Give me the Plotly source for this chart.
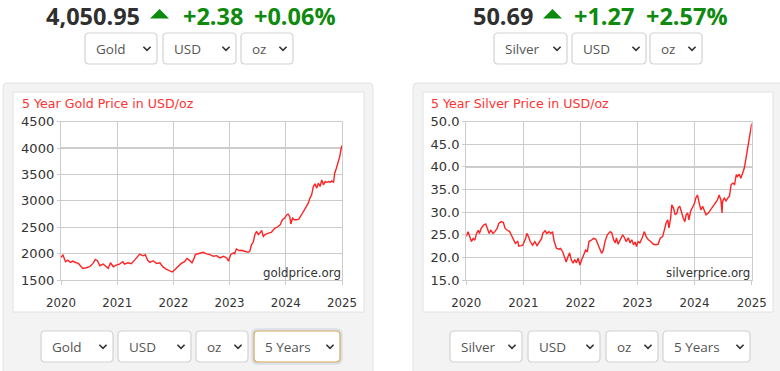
import plotly.graph_objects as go

W, H = 780, 371

# ---------------- data ----------------
gold_t = [2020.0, 2020.035, 2020.08, 2020.12, 2020.17, 2020.21, 2020.27, 2020.31, 2020.36, 2020.39,
          2020.45, 2020.51, 2020.57, 2020.61, 2020.65, 2020.69, 2020.75, 2020.79, 2020.84, 2020.88,
          2020.93, 2020.98, 2021.04, 2021.10, 2021.13, 2021.19, 2021.25, 2021.31, 2021.37, 2021.40,
          2021.46, 2021.50, 2021.54, 2021.58, 2021.64, 2021.70, 2021.76, 2021.81, 2021.87, 2021.93,
          2021.98, 2022.02, 2022.08, 2022.14, 2022.20, 2022.24, 2022.28, 2022.33, 2022.36, 2022.39,
          2022.45, 2022.53, 2022.59, 2022.65, 2022.71, 2022.77, 2022.83, 2022.89, 2022.95, 2022.98,
          2023.02, 2023.07, 2023.09, 2023.12, 2023.17, 2023.21, 2023.27, 2023.33, 2023.36, 2023.39,
          2023.42, 2023.45, 2023.48, 2023.51, 2023.54, 2023.57, 2023.60, 2023.63, 2023.69, 2023.74,
          2023.78, 2023.81, 2023.85, 2023.90, 2023.94, 2023.98, 2024.02, 2024.04, 2024.07, 2024.09,
          2024.12, 2024.15, 2024.19, 2024.23, 2024.28, 2024.33, 2024.37, 2024.40, 2024.43, 2024.46,
          2024.49, 2024.52, 2024.55, 2024.58, 2024.61, 2024.64, 2024.67, 2024.70, 2024.73, 2024.76,
          2024.79, 2024.82, 2024.85, 2024.87, 2024.90, 2024.93, 2024.96, 2024.98, 2025.0]
gold_v = [1928, 1972, 1846, 1877, 1833, 1858, 1827, 1814, 1752, 1720,
          1733, 1752, 1814, 1890, 1865, 1770, 1802, 1764, 1720, 1827,
          1752, 1783, 1802, 1846, 1802, 1827, 1808, 1877, 1953, 1990,
          1959, 1978, 1877, 1833, 1865, 1814, 1827, 1752, 1708, 1676,
          1651, 1689, 1752, 1814, 1846, 1909, 1877, 1827, 1890, 1984,
          2003, 2025, 1994, 1981, 1950, 1962, 1918, 1950, 1918, 1855,
          1981, 2013, 2000, 2088, 2057, 2063, 2044, 2025, 2044, 2170,
          2214, 2359, 2422, 2359, 2390, 2441, 2328, 2359, 2390, 2403,
          2453, 2485, 2504, 2548, 2642, 2674, 2737, 2749, 2705, 2561,
          2674, 2642, 2642, 2655, 2737, 2831, 2926, 2957, 3052, 3115,
          3272, 3322, 3241, 3335, 3272, 3398, 3304, 3367, 3348, 3367,
          3354, 3379, 3348, 3524, 3618, 3713, 3839, 3965, 4051]

silver_t = [2020.0, 2020.03, 2020.06, 2020.09, 2020.12, 2020.15, 2020.18, 2020.21, 2020.23, 2020.26,
            2020.30, 2020.34, 2020.37, 2020.40, 2020.43, 2020.47, 2020.50, 2020.54, 2020.57, 2020.61,
            2020.65, 2020.68, 2020.72, 2020.76, 2020.79, 2020.83, 2020.86, 2020.90, 2020.92, 2020.96,
            2020.99, 2021.04, 2021.06, 2021.09, 2021.12, 2021.16, 2021.20, 2021.24, 2021.28, 2021.32,
            2021.34, 2021.38, 2021.41, 2021.45, 2021.48, 2021.51, 2021.54, 2021.58, 2021.62, 2021.65,
            2021.69, 2021.72, 2021.75, 2021.78, 2021.81, 2021.84, 2021.87, 2021.90, 2021.93, 2021.96,
            2021.99, 2022.02, 2022.06, 2022.09, 2022.12, 2022.15, 2022.19, 2022.23, 2022.27, 2022.31,
            2022.34, 2022.37, 2022.40, 2022.43, 2022.47, 2022.52, 2022.55, 2022.58, 2022.61, 2022.63,
            2022.66, 2022.70, 2022.74, 2022.77, 2022.80, 2022.84, 2022.87, 2022.90, 2022.93, 2022.96,
            2022.98, 2023.01, 2023.04, 2023.08, 2023.12, 2023.15, 2023.19, 2023.23, 2023.28, 2023.32,
            2023.36, 2023.40, 2023.44, 2023.47, 2023.50, 2023.53, 2023.55, 2023.58, 2023.60, 2023.63,
            2023.66, 2023.69, 2023.71, 2023.74, 2023.77, 2023.80, 2023.83, 2023.85, 2023.88, 2023.90,
            2023.93, 2023.96, 2024.0, 2024.02, 2024.05, 2024.08, 2024.11, 2024.14, 2024.16, 2024.20,
            2024.24, 2024.28, 2024.33, 2024.37, 2024.40, 2024.43, 2024.46, 2024.48, 2024.49, 2024.52,
            2024.55, 2024.58, 2024.61, 2024.64, 2024.67, 2024.70, 2024.73, 2024.75, 2024.78, 2024.81,
            2024.84, 2024.87, 2024.90, 2024.93, 2024.96, 2024.99, 2025.0]
silver_v = [24.6, 25.7, 24.6, 23.5, 24.2, 23.8, 25.3, 26.0, 25.3, 26.4,
            27.1, 27.4, 26.4, 25.3, 26.0, 25.3, 25.7, 26.4, 27.5, 27.9,
            27.7, 26.4, 26.0, 25.7, 24.9, 23.8, 23.1, 23.5, 22.5, 22.6,
            22.7, 24.2, 25.3, 24.6, 23.5, 22.7, 23.5, 22.6, 23.5, 24.2,
            25.3, 25.9, 25.3, 25.7, 25.3, 25.7, 23.5, 22.0, 21.8, 22.0,
            21.2, 19.8, 19.0, 20.1, 21.0, 19.4, 18.7, 19.5, 18.8, 19.8,
            18.3, 19.4, 20.5, 21.6, 21.2, 23.5, 23.8, 24.2, 24.0, 22.7,
            21.6, 20.9, 21.6, 23.5, 25.0, 25.7, 25.4, 23.9, 23.2, 24.3,
            22.9, 23.9, 25.0, 24.4, 23.5, 24.3, 23.2, 23.9, 22.8, 23.4,
            22.4, 23.5, 23.2, 24.3, 25.7, 24.6, 23.9, 23.5, 22.9, 22.8,
            22.9, 24.3, 24.6, 26.1, 27.6, 28.3, 26.5, 28.7, 31.6, 30.9,
            29.4, 29.8, 30.9, 31.3, 29.8, 28.7, 27.9, 29.4, 29.8, 28.3,
            30.2, 31.0, 32.0, 33.1, 33.8, 32.0, 30.5, 31.3, 30.7, 29.4,
            29.8, 30.5, 31.3, 32.0, 32.7, 33.8, 32.7, 29.8, 32.4, 33.1,
            32.5, 33.1, 33.5, 36.1, 36.4, 36.1, 38.3, 37.9, 38.4, 37.5,
            38.6, 39.7, 41.9, 44.2, 47.1, 49.3, 49.6]

gold_header = ["4,050.95", "+2.38", "+0.06%"]
silver_header = ["50.69", "+1.27", "+2.57%"]
gold_title = "5 Year Gold Price in USD/oz"
silver_title = "5 Year Silver Price in USD/oz"
gold_mark = "goldprice.org"
silver_mark = "silverprice.org"
gold_selects_top = ["Gold", "USD", "oz"]
silver_selects_top = ["Silver", "USD", "oz"]
gold_selects_bottom = ["Gold", "USD", "oz", "5 Years"]
silver_selects_bottom = ["Silver", "USD", "oz", "5 Years"]


# ---------------- helpers ----------------
def X(px):
    return px / W


def Y(py):
    return 1 - py / H


def rrect(x0, y0, x1, y1, r):
    p = [
        f"M{X(x0 + r)},{Y(y0)}", f"L{X(x1 - r)},{Y(y0)}", f"Q{X(x1)},{Y(y0)} {X(x1)},{Y(y0 + r)}",
        f"L{X(x1)},{Y(y1 - r)}", f"Q{X(x1)},{Y(y1)} {X(x1 - r)},{Y(y1)}",
        f"L{X(x0 + r)},{Y(y1)}", f"Q{X(x0)},{Y(y1)} {X(x0)},{Y(y1 - r)}",
        f"L{X(x0)},{Y(y0 + r)}", f"Q{X(x0)},{Y(y0)} {X(x0 + r)},{Y(y0)}", "Z",
    ]
    return " ".join(p)


shapes = []
annotations = []

# grey panels and white chart boxes
for (x0, x1) in [(3, 373), (413, 790)]:
    shapes.append(dict(type="path", path=rrect(x0, 83, x1, 380, 4), xref="paper", yref="paper",
                       fillcolor="#f3f3f3", line=dict(color="#e4e4e4", width=1), layer="below"))
for (x0, x1) in [(13, 364), (423, 773)]:
    shapes.append(dict(type="rect", x0=X(x0), x1=X(x1), y0=Y(312), y1=Y(92), xref="paper", yref="paper",
                       fillcolor="white", line=dict(color="#e2e2e2", width=1), layer="below"))


def select_box(label, x0, x1, y0, y1, border="#d3d3d3", glow=False):
    if glow:
        shapes.append(dict(type="path", path=rrect(x0 - 1.5, y0 - 1.5, x1 + 1.5, y1 + 1.5, 5), xref="paper",
                           yref="paper", fillcolor="rgba(0,0,0,0)",
                           line=dict(color="rgba(190,200,220,0.45)", width=2.5), layer="below"))
    shapes.append(dict(type="path", path=rrect(x0, y0, x1, y1, 4), xref="paper", yref="paper",
                       fillcolor="white", line=dict(color=border, width=1.2), layer="below"))
    cx, cy = x1 - 10, (y0 + y1) / 2
    shapes.append(dict(type="path",
                       path=f"M{X(cx - 3.6)},{Y(cy - 1.8)} L{X(cx)},{Y(cy + 1.9)} L{X(cx + 3.6)},{Y(cy - 1.8)}",
                       xref="paper", yref="paper", line=dict(color="#333333", width=1.6), layer="above"))
    annotations.append(dict(text=label, x=X(x0 + 9), y=Y((y0 + y1) / 2 + 0.5), xref="paper", yref="paper",
                            xanchor="left", yanchor="middle", showarrow=False,
                            font=dict(family="Open Sans", size=13.5, color="#555555")))


top_gold_pos = [(85, 157), (163, 236), (241, 293)]
top_silver_pos = [(494, 567), (572, 646), (650, 702)]
bot_gold_pos = [(41, 113), (118, 191), (196, 248), (254, 340)]
bot_silver_pos = [(450, 522), (528, 600), (606, 658), (663, 750)]

for lab, (a, b) in zip(gold_selects_top, top_gold_pos):
    select_box(lab, a, b, 33, 64)
for lab, (a, b) in zip(silver_selects_top, top_silver_pos):
    select_box(lab, a, b, 33, 64)
for i, (lab, (a, b)) in enumerate(zip(gold_selects_bottom, bot_gold_pos)):
    if i == 3:
        select_box(lab, a, b, 331, 362, border="#cfa95a", glow=True)
    else:
        select_box(lab, a, b, 331, 362)
for lab, (a, b) in zip(silver_selects_bottom, bot_silver_pos):
    select_box(lab, a, b, 331, 362)

# headers
GREEN = "#0e8a0e"
DARK = "#2f2f2f"


def header(vals, xs, tri):
    cols = [DARK, GREEN, GREEN]
    for v, x, c in zip(vals, xs, cols):
        annotations.append(dict(text=f"<b>{v}</b>", x=X(x - 1), y=Y(16), xref="paper", yref="paper",
                                xanchor="left", yanchor="middle", showarrow=False,
                                font=dict(family="Open Sans", size=23.5, color=c)))
    t0, t1 = tri
    shapes.append(dict(type="path",
                       path=f"M{X(t0)},{Y(18.5)} L{X(t1)},{Y(18.5)} L{X((t0 + t1) / 2)},{Y(9)} Z",
                       xref="paper", yref="paper", fillcolor=GREEN, line=dict(width=0), layer="above"))


header(gold_header, [45, 182, 253], (150, 169))
header(silver_header, [472, 573, 645], (543, 562))

# chart titles and watermarks
for txt, x in [(gold_title, 20), (silver_title, 429)]:
    annotations.append(dict(text=txt, x=X(x), y=Y(103), xref="paper", yref="paper", xanchor="left",
                            yanchor="middle", showarrow=False,
                            font=dict(family="DejaVu Sans", size=12.6, color="#ff3333")))
for txt, x in [(gold_mark, 343), (silver_mark, 752)]:
    annotations.append(dict(text=txt, x=X(x), y=Y(273), xref="paper", yref="paper", xanchor="right",
                            yanchor="middle", showarrow=False,
                            font=dict(family="DejaVu Sans", size=11.8, color="#333333")))

fig = go.Figure()
fig.add_trace(go.Scatter(x=gold_t, y=gold_v, mode="lines", line=dict(color="#ff2222", width=1.4),
                         xaxis="x", yaxis="y", hoverinfo="skip"))
fig.add_trace(go.Scatter(x=silver_t, y=silver_v, mode="lines", line=dict(color="#ff2222", width=1.4),
                         xaxis="x2", yaxis="y2", hoverinfo="skip"))

axis_common = dict(showgrid=True, gridcolor="#cccccc", gridwidth=1.2, showline=True, mirror=True,
                   linecolor="#cccccc", linewidth=1.2, ticks="outside", tickcolor="#cccccc",
                   zeroline=False, fixedrange=True, automargin=False)
xfont = dict(family="DejaVu Sans", size=11.8, color="#333333")
yfont = dict(family="DejaVu Sans", size=13, color="#333333")

gy0, gy1 = Y(280), Y(121.7)
fig.update_layout(
    width=W, height=H, margin=dict(l=0, r=0, t=0, b=0, pad=0, autoexpand=False),
    paper_bgcolor="white", plot_bgcolor="white", showlegend=False,
    xaxis=dict(domain=[X(61), X(342)], range=[2020, 2025], dtick=1, tickformat="d", anchor="y",
               ticklen=4, tickfont=xfont, ticklabelstandoff=8, **axis_common),
    yaxis=dict(domain=[gy0, gy1], range=[1500, 4500], dtick=500, tickformat="d", anchor="x",
               ticklen=3, tickfont=yfont, ticklabelstandoff=0, **axis_common),
    xaxis2=dict(domain=[X(466.3), X(751.7)], range=[2020, 2025], dtick=1, tickformat="d", anchor="y2",
                ticklen=4, tickfont=xfont, ticklabelstandoff=8, **axis_common),
    yaxis2=dict(domain=[gy0, gy1], range=[15, 50], dtick=5, tickformat=".1f", anchor="x2",
                ticklen=3, tickfont=yfont, ticklabelstandoff=0, **axis_common),
    shapes=shapes, annotations=annotations,
)

fig.write_html("out.html", config={"displayModeBar": False, "staticPlot": True},
               post_script="document.body.style.margin='0';document.body.style.overflow='hidden';")
